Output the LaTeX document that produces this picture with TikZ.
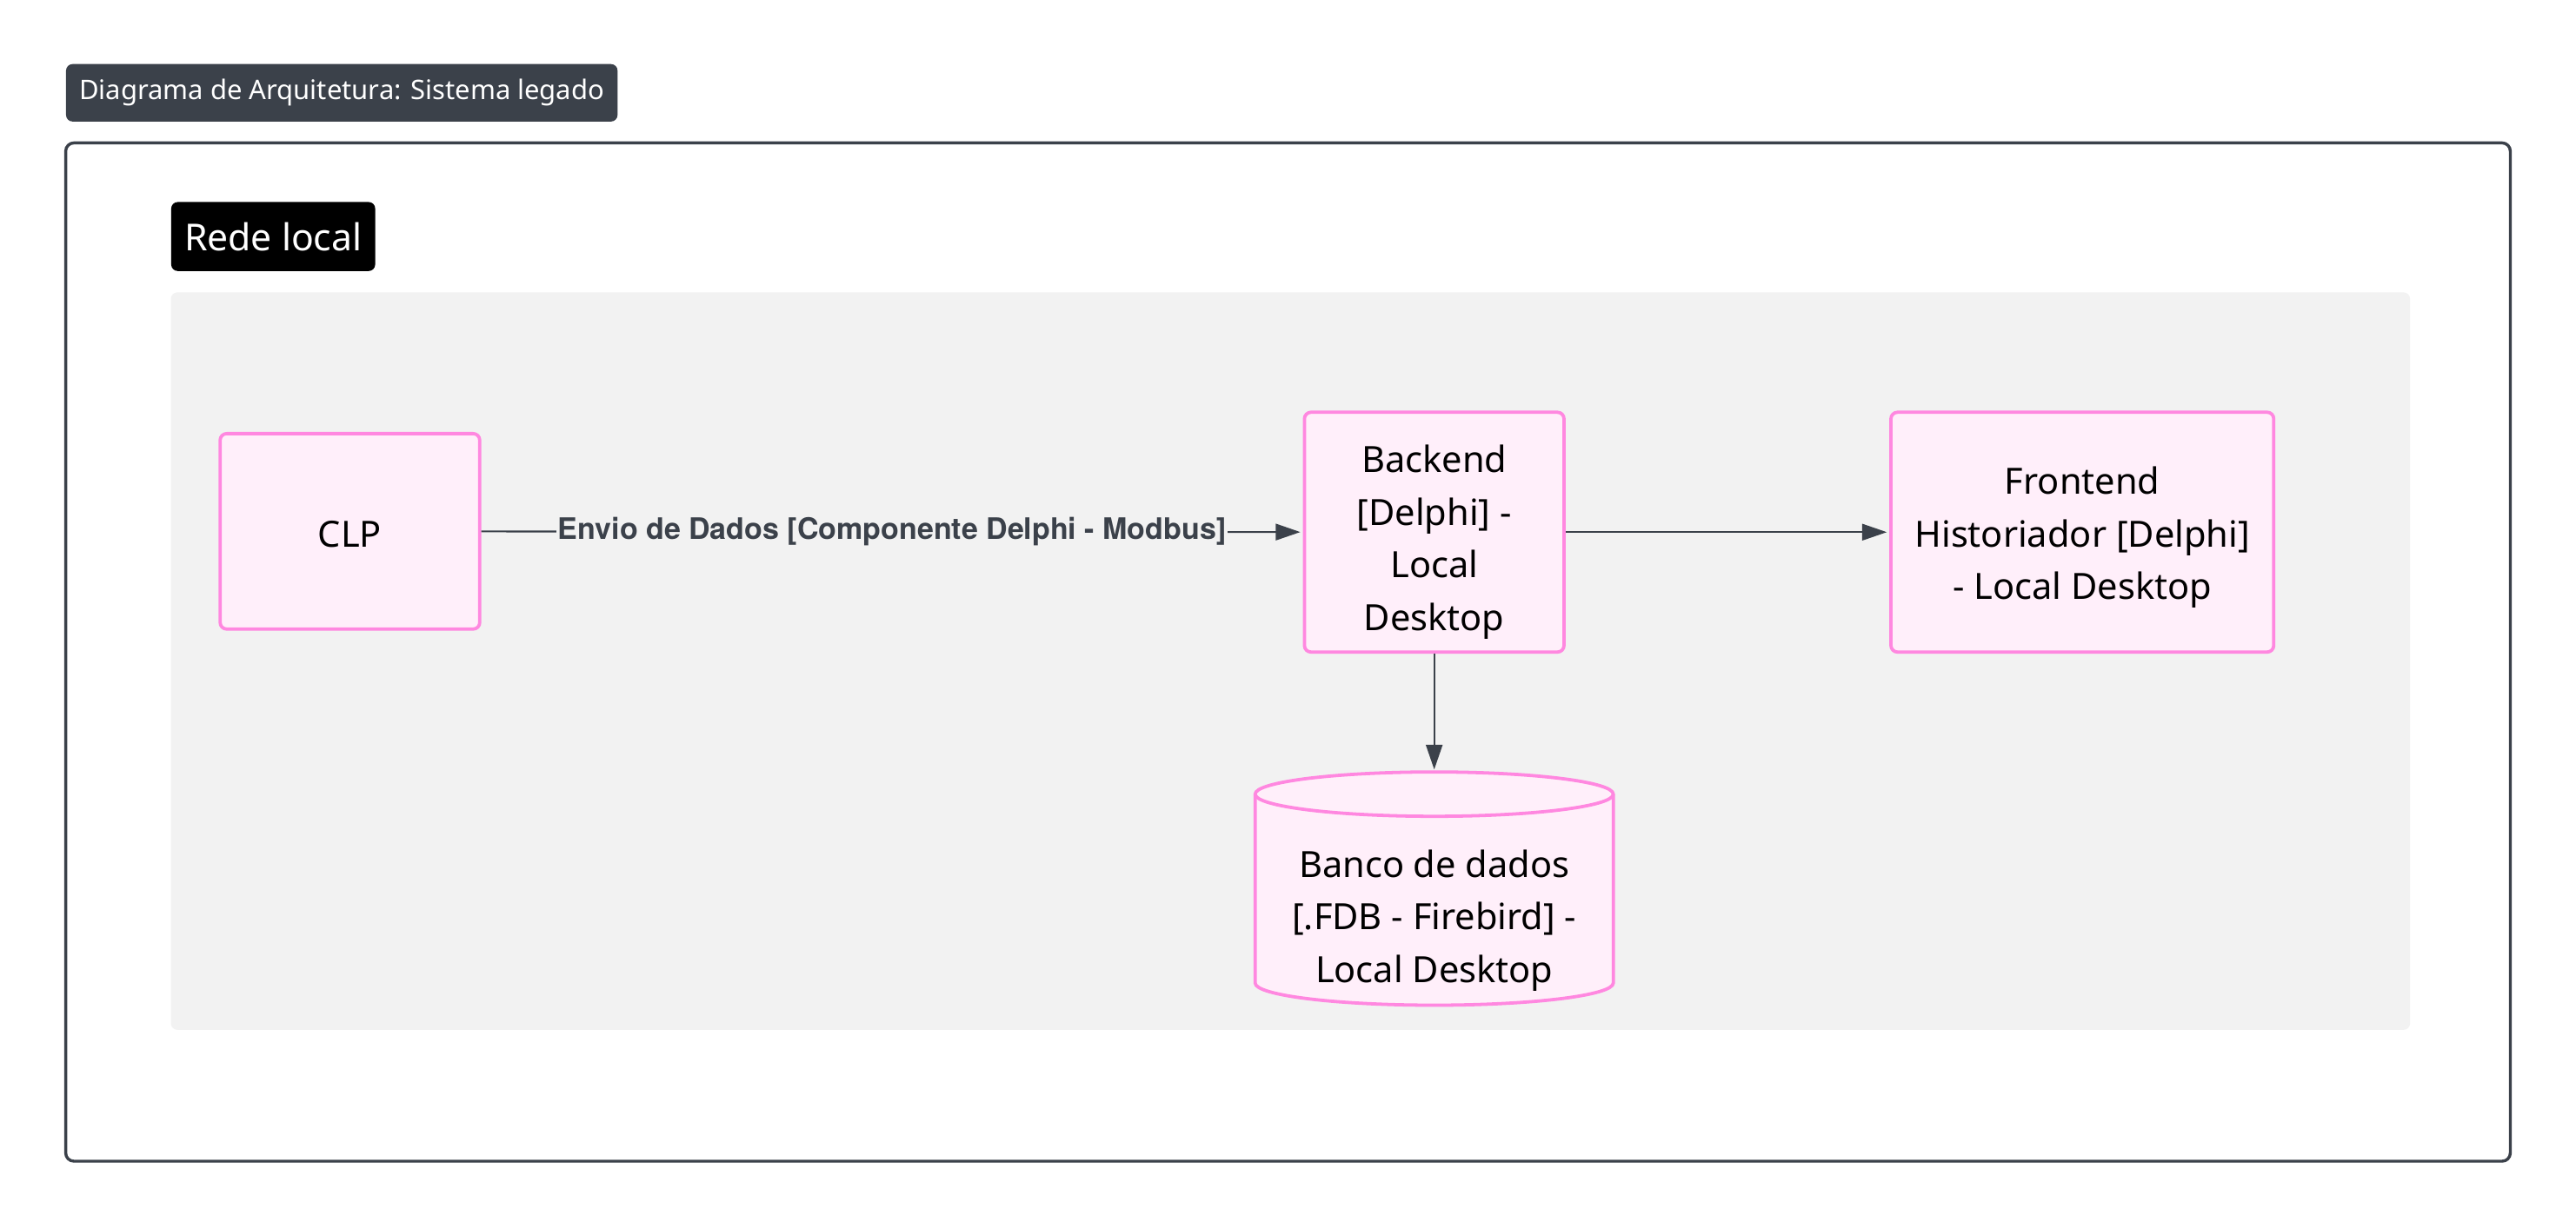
\documentclass[tikz,border=0pt]{standalone}
\usepackage{fontspec}
\setmainfont{Noto Sans}
\newfontfamily\edgefont{TeX Gyre Heros}
\usetikzlibrary{positioning,arrows.meta}
\definecolor{nodefill}{HTML}{FFEFFA}
\definecolor{nodeline}{HTML}{FF88E0}
\definecolor{edgecol}{HTML}{3B414A}
\definecolor{areagray}{HTML}{F2F2F2}
\newcommand{\topline}[1]{\rule{0pt}{#1}}
\begin{document}
\begin{tikzpicture}[x=1pt, y=-1pt, every node/.style={font=\fontsize{22}{32}\selectfont},
        comp/.style={draw=nodeline, fill=nodefill, line width=2pt, rounded corners=4pt, align=center, inner sep=0pt},
        dbline/.style={draw=nodeline, fill=nodefill, line width=2pt},
        flow/.style={draw=edgecol, line width=1.1pt, shorten >=1.5pt, -{Triangle[length=15pt,width=10pt]}}]
            \useasboundingbox (0,0) rectangle (1568,748);
            \fill[white] (0,0) rectangle (1568,748);

            % moldura do diagrama
            \draw[edgecol, line width=1.8pt, rounded corners=5pt] (40,87) rectangle (1528,707);
            \node[fill=edgecol, text=white, rounded corners=4pt, font=\fontsize{16.4}{20}\selectfont,
                minimum height=35pt, inner xsep=8pt, anchor=west] (titulo) at (40,56.5)
                {Diagrama de Arquitetura: Sistema legado};

            % rede local
            \fill[areagray, rounded corners=4pt] (104,178) rectangle (1467,627);
            \node[fill=black, text=white, rounded corners=4pt, font=\fontsize{22.6}{26}\selectfont,
                minimum height=42pt, inner xsep=8pt, anchor=west] (rede) at (104,144) {Rede local};

            \node[comp, minimum width=158pt, minimum height=119pt] (clp) at (213,323.5) {\topline{19pt}CLP};
            \node[comp, minimum width=158pt, minimum height=146pt] (backend) at (873,324)
                {\topline{29pt}Backend\\{[}Delphi] -\\Local\\Desktop};
            \node[comp, minimum width=233pt, minimum height=146pt] (frontend) at (1267.5,324)
                {\topline{23pt}Frontend\\Historiador [Delphi]\\- Local Desktop};

            % banco de dados (cilindro)
            \coordinate (dbtop) at (873,470);
            \path[dbline] ([xshift=-109pt, yshift=-13.5pt]dbtop) -- ++(0,115)
                arc[start angle=180, end angle=360, x radius=109pt, y radius=13.5pt] -- ++(0,-115)
                arc[start angle=0, end angle=180, x radius=109pt, y radius=13.5pt] -- cycle;
            \draw[dbline, fill=none] ([xshift=-109pt, yshift=-13.5pt]dbtop)
                arc[start angle=180, end angle=360, x radius=109pt, y radius=13.5pt];
            \node[align=center, inner sep=0pt, minimum width=218pt, minimum height=142pt, anchor=north] (banco) at (dbtop)
                {\topline{55pt}Banco de dados\\{[}.FDB - Firebird] -\\Local Desktop};

            \draw[flow] (clp) -- node[fill=areagray, text=edgecol, inner sep=1pt,
                font=\edgefont\bfseries\fontsize{18}{20}\selectfont] (envio) {Envio de Dados [Componente Delphi - Modbus]} (backend);
            \draw[flow] (backend) -- (frontend);
            \draw[flow] (backend) -- (banco);
        \end{tikzpicture}
\end{document}
